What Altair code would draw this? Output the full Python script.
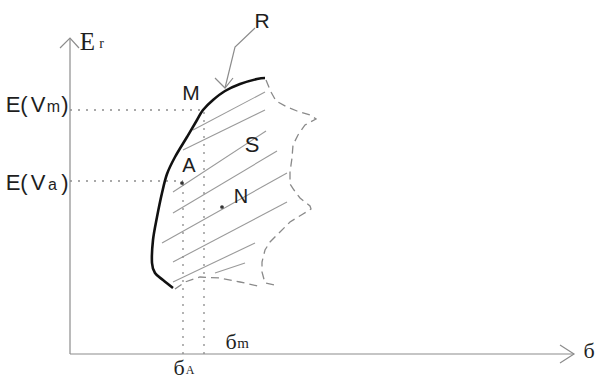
import altair as alt
import pandas as pd

# ---- diagram data (sigma = risk, Er = expected return; origin at the axes' corner) ----

# bold efficient frontier, lower tip to upper tip
frontier_sigma = [103, 93, 85, 82, 83, 87, 92, 97, 105, 117, 127, 133, 143, 155, 170, 187, 195]
frontier_er = [66, 74, 81, 91, 114, 137, 161, 180, 197, 217, 234, 244, 254, 263, 270, 275, 276]

# dashed, irregular right-hand edge of the feasible set
edge_sigma = [196, 201, 206, 217, 227, 240, 246, 235, 228, 223, 222, 220, 220, 224, 230,
              240, 241, 233, 220, 210, 200, 195, 192, 192, 195, 205]
edge_er = [274, 262, 253, 247, 243, 239, 235, 229, 219, 209, 196, 182, 170, 164, 156,
           148, 145, 140, 132, 122, 112, 104, 92, 82, 71, 69]

# dashed lower edge
base_sigma = [105, 115, 130, 150, 170, 188]
base_er = [65, 72, 77, 76, 72, 68]

# hatching across the set (start and end of each stroke)
hatch_sigma_start = [123, 113, 103, 103, 92, 103, 103, 145]
hatch_er_start = [224, 204, 162, 141, 111, 92, 72, 81]
hatch_sigma_end = [195, 195, 196, 207, 217, 217, 185, 175]
hatch_er_end = [262, 244, 223, 203, 181, 152, 111, 91]

# portfolios M (on the frontier) and A
sigma_m, er_m = 134, 244
sigma_a, er_a = 113, 173

# axes with arrow heads
axis_paths = {
    "y_axis": ([0, 0], [0, 316]),
    "y_head": ([-10, 0, 9], [306, 316, 306]),
    "x_axis": ([0, 504], [0, 0]),
    "x_head": ([490, 504, 490], [9, 0, -9]),
}

# pointer from the label R to the frontier
pointer_paths = {
    "stem": ([185, 165, 155], [326, 307, 266]),
    "head": ([145, 155, 163], [276, 266, 276]),
}

# marked portfolios
dot_names = ["A", "N"]
dot_sigma = [112, 152]
dot_er = [171, 147]

# sans-serif labels: text, centre sigma, baseline Er, font size
sans_text = ["R", "M", "A", "S", "N",
             "E", "(", "V", "m", ")",
             "E", "(", "V", "a", ")"]
sans_sigma = [192, 121, 119, 182, 171,
              -57, -46, -32, -16.5, -5,
              -57, -46, -32, -17.5, -5]
sans_er = [326, 254, 182, 202, 151,
           242, 242, 242, 242, 242,
           164, 164, 164, 164, 164]
sans_size = [21, 21, 20, 22, 20,
             22, 22, 22, 16, 22,
             22, 22, 22, 16, 22]

# serif labels for the axes and the risk levels
serif_text = ["E", "r", "б", "A", "б", "m", "б"]
serif_sigma = [17.5, 31.5, 109, 120, 161, 173, 519]
serif_er = [304, 306, -21, -20, 5, 6, -4]
serif_size = [25, 14, 22, 12, 22, 15, 22]


def paths_frame(paths):
    rows = []
    for name, (xs, ys) in paths.items():
        for i, (x, y) in enumerate(zip(xs, ys)):
            rows.append({"path": name, "i": i, "sigma": x, "er": y})
    return pd.DataFrame(rows)


x_scale = alt.Scale(domain=[-70, 527], nice=False, zero=False)
y_scale = alt.Scale(domain=[-27, 354], nice=False, zero=False)
X = alt.X("sigma:Q", scale=x_scale, axis=None)
Y = alt.Y("er:Q", scale=y_scale, axis=None)


def path_layer(df, **mark):
    return alt.Chart(df).mark_line(**mark).encode(
        x=X, y=Y, detail="path:N", order="i:Q"
    )


axes = path_layer(paths_frame(axis_paths), color="#8c8c8c", strokeWidth=1.2)

guides_df = pd.DataFrame({
    "sigma": [0, 0, sigma_a, sigma_m],
    "er": [er_m, er_a, 0, 0],
    "sigma2": [sigma_m, sigma_a, sigma_a, sigma_m],
    "er2": [er_m, er_a, er_a, er_m],
})
guides = alt.Chart(guides_df).mark_rule(
    color="#8c8c8c", strokeWidth=1.3, strokeDash=[2, 6]
).encode(x=X, y=Y, x2="sigma2:Q", y2="er2:Q")

hatch_df = pd.DataFrame({
    "sigma": hatch_sigma_start, "er": hatch_er_start,
    "sigma2": hatch_sigma_end, "er2": hatch_er_end,
})
hatch = alt.Chart(hatch_df).mark_rule(color="#9a9a9a", strokeWidth=1.1).encode(
    x=X, y=Y, x2="sigma2:Q", y2="er2:Q"
)

edge = path_layer(
    paths_frame({"right": (edge_sigma, edge_er), "bottom": (base_sigma, base_er)}),
    color="#8a8a8a", strokeWidth=1.3, strokeDash=[8, 5],
)

frontier = path_layer(
    paths_frame({"frontier": (frontier_sigma, frontier_er)}),
    color="#111111", strokeWidth=2.6, interpolate="cardinal",
)

pointer = path_layer(paths_frame(pointer_paths), color="#8c8c8c", strokeWidth=1.2)

dots = alt.Chart(pd.DataFrame({"name": dot_names, "sigma": dot_sigma, "er": dot_er})).mark_point(
    filled=True, color="#333333", size=14, opacity=1
).encode(x=X, y=Y)

sans = alt.Chart(pd.DataFrame({
    "t": sans_text, "sigma": sans_sigma, "er": sans_er, "s": sans_size
})).mark_text(
    font="Liberation Sans", align="center", baseline="alphabetic", color="#1e1e1e"
).encode(x=X, y=Y, text="t:N", size=alt.Size("s:Q", scale=None, legend=None))

serif = alt.Chart(pd.DataFrame({
    "t": serif_text, "sigma": serif_sigma, "er": serif_er, "s": serif_size
})).mark_text(
    font="Liberation Serif", align="center", baseline="alphabetic", color="#1e1e1e"
).encode(x=X, y=Y, text="t:N", size=alt.Size("s:Q", scale=None, legend=None))

chart = alt.layer(
    hatch, edge, guides, axes, pointer, frontier, dots, sans, serif
).properties(
    width=597, height=381, autosize=alt.AutoSizeParams(type="none"), padding=0,
    background="white",
).configure_view(stroke=None)

chart.save("out.html", embed_options={"renderer": "svg", "actions": False})
